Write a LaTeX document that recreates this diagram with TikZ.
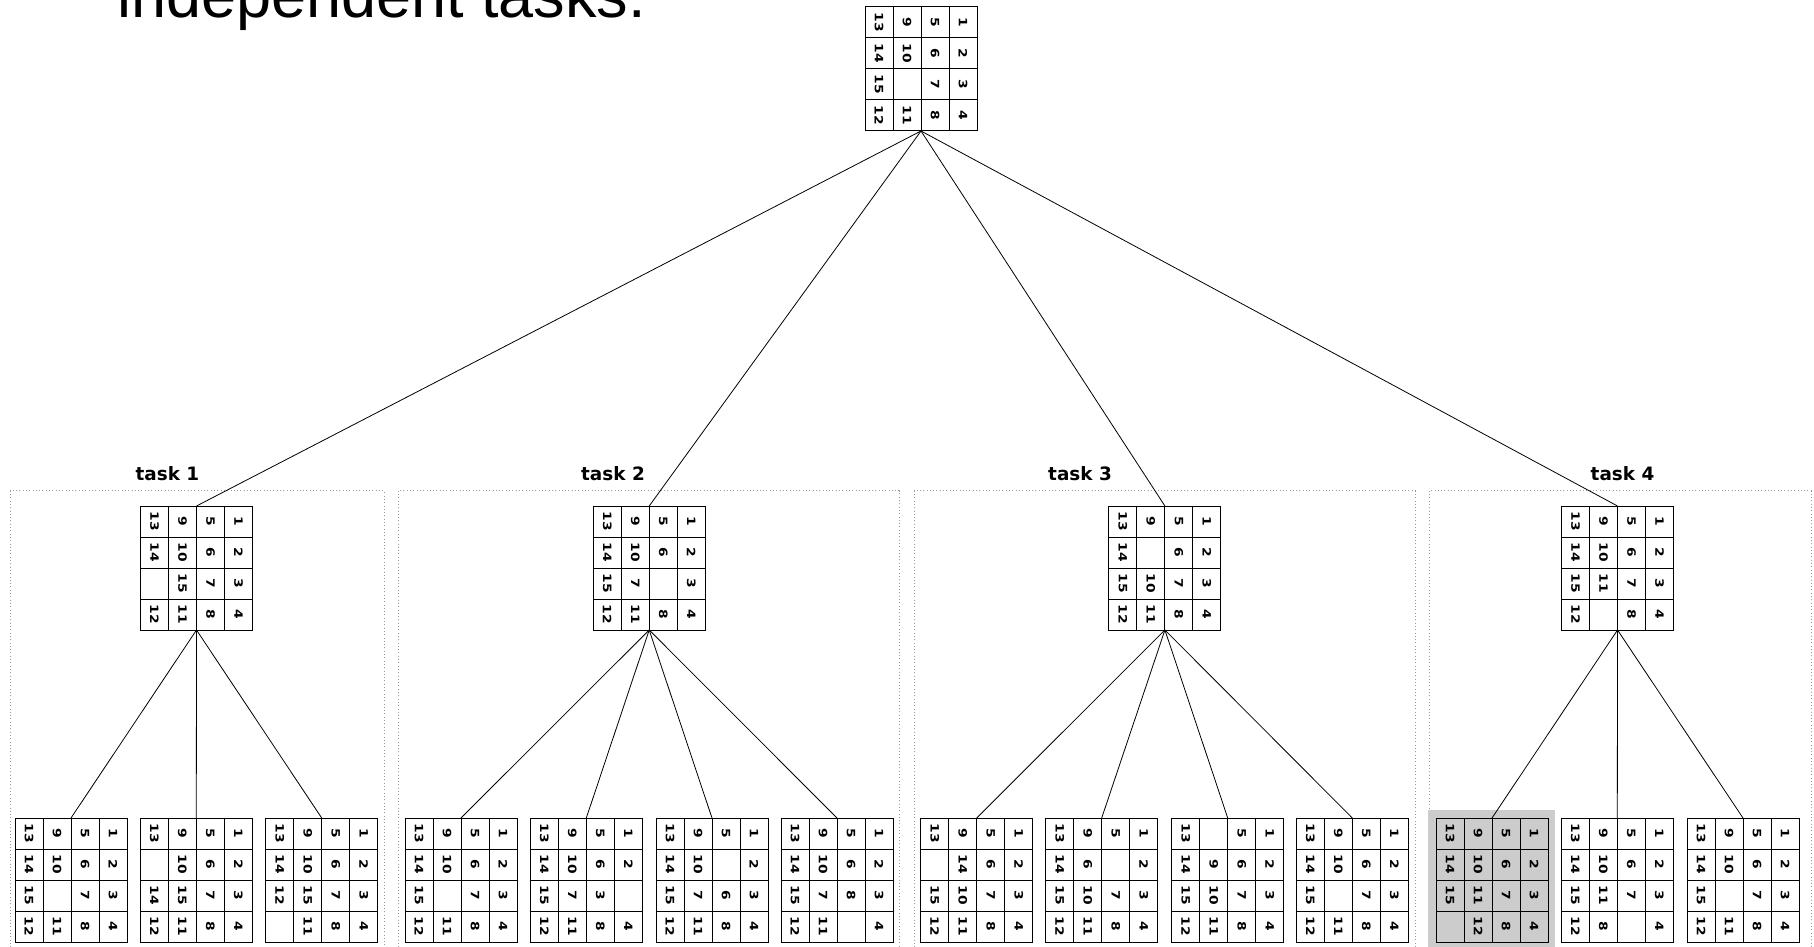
\documentclass[tikz,border=0pt]{standalone}
\usepackage{graphicx}
\usepackage{fontspec}
\setmainfont{DejaVu Sans}
\newfontfamily\headfont{Liberation Sans}

\newcommand{\board}[3]{%
  \node[board] (#1) at (#2) {};
  \foreach \i in {1,2,3} {
    \draw[cellline,shift={(#1.north west)}] (\i*28,0) -- (\i*28,124);
    \draw[cellline,shift={(#1.north west)}] (0,\i*31) -- (112,\i*31);
  }
  \foreach \v [count=\k from 0] in {#3} {
    \pgfmathtruncatemacro\rr{\k/4}
    \pgfmathtruncatemacro\cc{mod(\k,4)}
    \node[num] (#1-\k) at ([shift={(-14-28*\rr,15.5+31*\cc)}]#1.north east) {\scalebox{1.2}[1]{\v}};
  }
}

\begin{document}
\begin{tikzpicture}[x=1pt,y=-1pt,
  board/.style={draw,line width=1pt,minimum width=112pt,minimum height=124pt,inner sep=0pt,outer sep=0pt},
  cellline/.style={line width=1pt},
  num/.style={rotate=-90,inner sep=0pt,font=\fontsize{11.5}{13}\selectfont\bfseries},
  tasklabel/.style={anchor=base,font=\fontsize{18.4}{22}\selectfont\bfseries},
  frame/.style={gray!80,line width=0.9pt,dash pattern=on 0.9pt off 2.4pt},
  link/.style={line width=0.8pt}]
  \useasboundingbox (0,0) rectangle (1814,947);

  \node[anchor=base west,inner sep=0pt,font=\headfont\fontsize{63}{72}\selectfont] (title) at (117,18) {independent tasks.};

  \draw[frame] (10,490.7) rectangle (384,960);
  \draw[frame] (398.5,490.7) rectangle (899,960);
  \draw[frame] (914,490.7) rectangle (1415,960);
  \draw[frame] (1429,490.7) rectangle (1811,960);
  \fill[gray!40] (1428,810) rectangle (1555,960);

  \node[tasklabel] (lab1) at (167.5,480.7) {task 1};
  \node[tasklabel] (lab2) at (613,480.7) {task 2};
  \node[tasklabel] (lab3) at (1080,480.7) {task 3};
  \node[tasklabel] (lab4) at (1622.5,480.7) {task 4};

  \board{root}{921,69}{1,2,3,4,5,6,7,8,9,10,{},11,13,14,15,12}

  \board{t1}{196.5,568}{1,2,3,4,5,6,7,8,9,10,15,11,13,14,{},12}
  \board{t2}{649.2,568}{1,2,3,4,5,6,{},8,9,10,7,11,13,14,15,12}
  \board{t3}{1164.9,568}{1,2,3,4,5,6,7,8,9,{},10,11,13,14,15,12}
  \board{t4}{1617.5,568}{1,2,3,4,5,6,7,8,9,10,11,{},13,14,15,12}

  \board{t1-1}{71,880}{1,2,3,4,5,6,7,8,9,10,{},11,13,14,15,12}
  \board{t1-2}{196.3,880}{1,2,3,4,5,6,7,8,9,10,15,11,13,{},14,12}
  \board{t1-3}{321.7,880}{1,2,3,4,5,6,7,8,9,10,15,11,13,14,12,{}}

  \board{t2-1}{461,880}{1,2,3,4,5,6,7,8,9,10,{},11,13,14,15,12}
  \board{t2-2}{586.3,880}{1,2,{},4,5,6,3,8,9,10,7,11,13,14,15,12}
  \board{t2-3}{712,880}{1,2,3,4,5,{},6,8,9,10,7,11,13,14,15,12}
  \board{t2-4}{837,880}{1,2,3,4,5,6,8,{},9,10,7,11,13,14,15,12}

  \board{t3-1}{976.7,880}{1,2,3,4,5,6,7,8,9,14,10,11,13,{},15,12}
  \board{t3-2}{1101.7,880}{1,2,3,4,5,{},7,8,9,6,10,11,13,14,15,12}
  \board{t3-3}{1227.7,880}{1,2,3,4,5,6,7,8,{},9,10,11,13,14,15,12}
  \board{t3-4}{1352.3,880}{1,2,3,4,5,6,7,8,9,10,{},11,13,14,15,12}

  \board{t4-1}{1492,880}{1,2,3,4,5,6,7,8,9,10,11,12,13,14,15,{}}
  \board{t4-2}{1617.3,880}{1,2,3,4,5,6,7,{},9,10,11,8,13,14,15,12}
  \board{t4-3}{1743,880}{1,2,3,4,5,6,7,8,9,10,{},11,13,14,15,12}

  \foreach \t in {t1,t2,t3,t4}
    \draw[link] (root.south) -- (\t.north);
  \foreach \l in {1,2,3}
    \draw[link] (t1.south) -- (t1-\l.north);
  \foreach \l in {1,2,3,4}
    \draw[link] (t2.south) -- (t2-\l.north);
  \foreach \l in {1,2,3,4}
    \draw[link] (t3.south) -- (t3-\l.north);
  \foreach \l in {1,2,3}
    \draw[link] (t4.south) -- (t4-\l.north);
\end{tikzpicture}
\end{document}
